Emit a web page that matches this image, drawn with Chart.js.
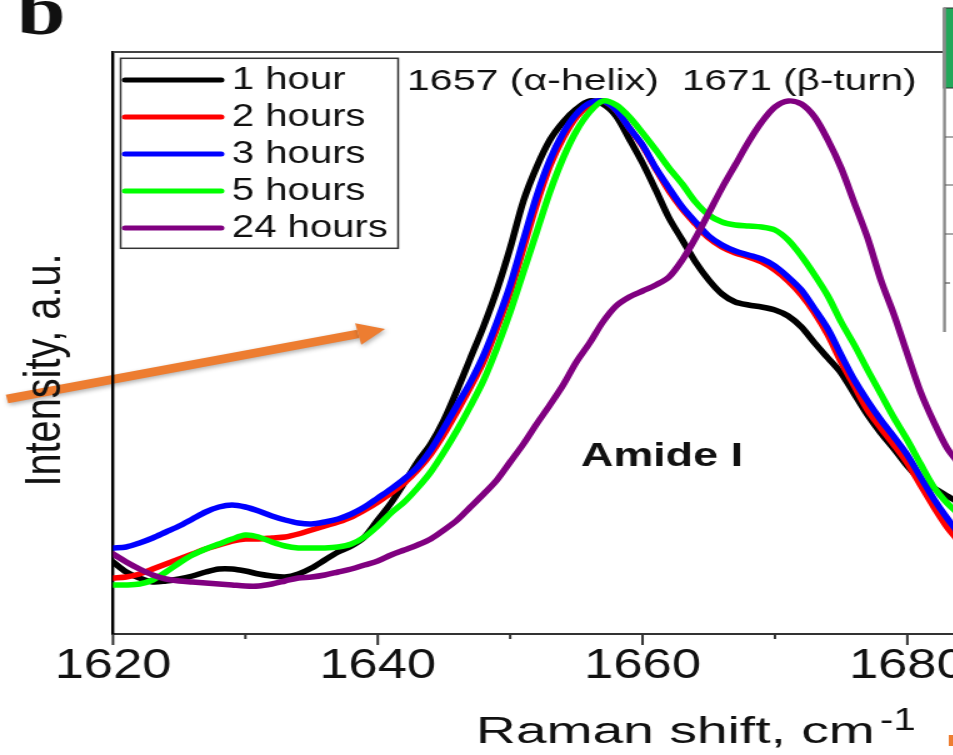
<!DOCTYPE html>
<html>
<head>
<meta charset="utf-8">
<script src="https://cdn.jsdelivr.net/npm/chart.js@4.4.1/dist/chart.umd.min.js"></script>
<style>
  html, body { margin: 0; padding: 0; background: #fff; overflow: hidden; }
  #frame { width: 953px; height: 755px; overflow: hidden; }
  /* the figure is laid out 800 wide and stretched sideways like the published panel */
  #stretch { width: 800px; height: 755px; transform: scaleX(1.25); transform-origin: 0 0; }
</style>
</head>
<body>
<div id="frame"><div id="stretch"><canvas id="amide" width="800" height="755"></canvas></div></div>
<script>
// Raman shift, cm-1
const ramanShift = [
  1620, 1621, 1622, 1623, 1624, 1625, 1626, 1627, 1628, 1629,
  1630, 1631, 1632, 1633, 1634, 1635, 1636, 1637, 1638, 1639,
  1640, 1641, 1642, 1643, 1644, 1645, 1646, 1647, 1648, 1649,
  1650, 1651, 1652, 1653, 1654, 1655, 1656, 1657, 1658, 1659,
  1660, 1661, 1662, 1663, 1664, 1665, 1666, 1667, 1668, 1669,
  1670, 1671, 1672, 1673, 1674, 1675, 1676, 1677, 1678, 1679,
  1680, 1681, 1682, 1683, 1684
]

// intensity, arbitrary units
const oneHour = [
  72, 62, 56, 52, 53, 55, 58, 62, 65, 65,
  63, 60, 58, 57, 60, 66, 74, 82, 88, 97,
  114, 131, 151, 172, 190, 214, 244, 276, 308, 344,
  386, 433, 467, 494, 512, 525, 533, 530, 518, 495,
  471, 444, 416, 394, 372, 354, 340, 332, 329, 327,
  324, 318, 307, 291, 276, 261, 240, 219, 201, 185,
  168, 154, 146, 138, 131
]
const twoHours = [
  56, 57, 60, 65, 70, 75, 80, 85, 89, 93,
  95, 95, 96, 97, 100, 104, 108, 112, 117, 124,
  132, 141, 151, 164, 180, 200, 223, 247, 273, 306,
  342, 386, 430, 468, 496, 517, 529, 533, 524, 506,
  488, 465, 443, 425, 410, 396, 387, 381, 377, 372,
  364, 353, 339, 321, 299, 272, 248, 224, 206, 189,
  171, 149, 127, 107, 91
]
const threeHours = [
  86, 87, 91, 96, 102, 108, 115, 122, 127, 129,
  127, 123, 118, 114, 111, 110, 112, 115, 120, 127,
  136, 145, 155, 167, 184, 206, 229, 252, 279, 312,
  349, 394, 438, 474, 501, 520, 531, 533, 524, 506,
  489, 466, 446, 427, 412, 398, 389, 383, 379, 375,
  368, 357, 344, 325, 305, 279, 254, 233, 214, 197,
  179, 157, 135, 116, 99
]
const fiveHours = [
  49, 49, 50, 54, 62, 71, 79, 85, 90, 95,
  99, 97, 92, 88, 86, 86, 86, 87, 90, 97,
  108, 121, 132, 146, 162, 182, 204, 228, 254, 286,
  322, 362, 402, 442, 476, 503, 522, 533, 529, 517,
  501, 484, 466, 450, 432, 419, 412, 409, 408, 407,
  404, 394, 378, 359, 338, 312, 289, 264, 240, 216,
  194, 170, 147, 131, 119
]
const twentyFourHours = [
  80, 72, 65, 59, 55, 53, 52, 51, 50, 49,
  48, 48, 50, 53, 56, 57, 59, 62, 65, 69,
  73, 79, 84, 89, 95, 104, 114, 127, 140, 154,
  172, 190, 210, 229, 249, 272, 291, 312, 328, 337,
  343, 349, 357, 374, 396, 421, 446, 469, 492, 512,
  527, 533, 530, 517, 494, 466, 431, 396, 354, 319,
  280, 242, 212, 186, 169
]

const seriesLabels = ['1 hour', '2 hours', '3 hours', '5 hours', '24 hours']
const seriesValues = [oneHour, twoHours, threeHours, fiveHours, twentyFourHours]
const seriesColors = ['#000000', '#ff0000', '#0000ff', '#00ff00', '#800080']

const xTickValues = [1620, 1630, 1640, 1650, 1660, 1670, 1680]
const xLabelStep = 20
const peakLabels = ['1657 (\u03b1-helix)', '1671 (\u03b2-turn)']
const bandLabel = 'Amide I'
const xTitle = 'Raman shift, cm'
const xTitleSup = '-1'
const yTitle = 'Intensity, a.u.'
const panelLetter = 'b'

const SANS = '"Liberation Sans", Arial, Helvetica, sans-serif'

// draw text squeezed or widened to a given width
const fitText = (ctx, text, x, y, width, center) => {
  const w = ctx.measureText(text).width
  ctx.save()
  ctx.translate(x, y)
  ctx.scale(width / w, 1)
  ctx.textAlign = 'left'
  ctx.fillText(text, center ? -w / 2 : 0, 0)
  ctx.restore()
}

const drawArrow = (ctx, x0, y0, x1, y1) => {
  const ang = Math.atan2(y1 - y0, x1 - x0)
  const head = 22
  const half = 11
  const bx = x1 - head * Math.cos(ang)
  const by = y1 - head * Math.sin(ang)
  ctx.save()
  ctx.shadowColor = 'rgba(0, 0, 0, 0.3)'
  ctx.shadowBlur = 4
  ctx.shadowOffsetX = 1
  ctx.shadowOffsetY = 2
  ctx.strokeStyle = '#ed7d31'
  ctx.fillStyle = '#ed7d31'
  ctx.lineWidth = 8.5
  ctx.beginPath()
  ctx.moveTo(x0, y0)
  ctx.lineTo(bx, by)
  ctx.stroke()
  ctx.beginPath()
  ctx.moveTo(x1, y1)
  ctx.lineTo(bx + half * Math.sin(ang), by - half * Math.cos(ang))
  ctx.lineTo(bx - half * Math.sin(ang), by + half * Math.cos(ang))
  ctx.closePath()
  ctx.fill()
  ctx.restore()
}

const figureDecor = {
  id: 'figureDecor',
  beforeDraw (chart) {
    const ctx = chart.ctx
    ctx.save()
    ctx.fillStyle = '#ffffff'
    ctx.fillRect(0, 0, chart.width, chart.height)
    ctx.restore()
    // trend arrow sits under the axis line and the axis title
    drawArrow(ctx, 5.6, 399, 308, 329)
  },
  afterDraw (chart) {
    const { ctx, chartArea } = chart
    const xs = chart.scales.x
    ctx.save()

    // top frame of the plot
    ctx.strokeStyle = '#444'
    ctx.lineWidth = 2
    ctx.beginPath()
    ctx.moveTo(chartArea.left, chartArea.top)
    ctx.lineTo(754.4, chartArea.top)
    ctx.stroke()

    // x ticks, long ones carry a label
    ctx.strokeStyle = '#333'
    ctx.lineWidth = 2
    xTickValues.forEach(v => {
      const px = xs.getPixelForValue(v)
      const len = v % xLabelStep === 0 ? 11 : 5
      ctx.beginPath()
      ctx.moveTo(px, chartArea.bottom)
      ctx.lineTo(px, chartArea.bottom + len)
      ctx.stroke()
    })

    // legend box
    ctx.fillStyle = '#ffffff'
    ctx.fillRect(96.5, 58.3, 222, 190)
    ctx.strokeStyle = '#333'
    ctx.lineWidth = 1.5
    ctx.strokeRect(96.5, 58.3, 222, 190)
    ctx.lineCap = 'round'
    ctx.lineWidth = 5
    ctx.font = '32px ' + SANS
    ctx.textAlign = 'left'
    ctx.textBaseline = 'alphabetic'
    seriesLabels.forEach((label, i) => {
      const rowY = 80 + i * 37
      ctx.strokeStyle = seriesColors[i]
      ctx.beginPath()
      ctx.moveTo(100, rowY)
      ctx.lineTo(177, rowY)
      ctx.stroke()
      ctx.fillStyle = '#111'
      ctx.fillText(label, 185.6, rowY + 9.3)
    })

    // band assignments
    ctx.fillStyle = '#111'
    ctx.font = '30px ' + SANS
    fitText(ctx, peakLabels[0], 325.6, 90, 201.6)
    fitText(ctx, peakLabels[1], 545.6, 90, 187.7)
    ctx.font = 'bold 34px ' + SANS
    fitText(ctx, bandLabel, 464.8, 466, 129.6)

    // axis titles
    ctx.font = '36px ' + SANS
    fitText(ctx, xTitle, 380.8, 742.7, 319)
    ctx.font = '32px ' + SANS
    ctx.fillText(xTitleSup, 704, 730)
    ctx.save()
    ctx.translate(48, 370)
    ctx.rotate(-Math.PI / 2)
    ctx.font = '41px ' + SANS
    fitText(ctx, yTitle, 0, 0, 233, true)
    ctx.restore()

    // panel letter, top cut by the crop
    ctx.font = 'bold 70px "Liberation Serif", "Times New Roman", serif'
    ctx.fillText(panelLetter, 13.6, 34)

    // edge of the neighbouring panel
    ctx.fillStyle = '#ffffff'
    ctx.fillRect(754.4, 0, 50, 334)
    ctx.fillStyle = '#22a85a'
    ctx.fillRect(755, 8, 50, 80)
    ctx.strokeStyle = '#2b2b2b'
    ctx.lineWidth = 1
    ctx.strokeRect(755, 8, 50, 80)
    ctx.strokeStyle = '#8c8c8c'
    ctx.lineWidth = 2.4
    ctx.lineCap = 'butt'
    ctx.beginPath()
    ctx.moveTo(755.6, 8)
    ctx.lineTo(755.6, 332)
    ctx.stroke()
    ctx.strokeStyle = '#555'
    ctx.lineWidth = 1.2
    ;[137, 185, 234].forEach(ty => {
      ctx.beginPath()
      ctx.moveTo(756, ty)
      ctx.lineTo(800, ty)
      ctx.stroke()
    })
    ctx.beginPath()
    ctx.moveTo(756, 283)
    ctx.lineTo(760, 283)
    ctx.stroke()
    ctx.fillStyle = '#ed7d31'
    ctx.fillRect(759, 735, 41, 11)

    ctx.restore()
  }
}

const ctx = document.getElementById('amide')
const amideChart = new Chart(ctx, {
  type: 'line',
  data: {
    datasets: seriesLabels.map((label, i) => ({
      label,
      data: ramanShift.map((x, j) => ({ x, y: seriesValues[i][j] })),
      borderColor: seriesColors[i],
      borderWidth: 5.5,
      pointRadius: 0,
      tension: 0.3,
      fill: false,
      borderCapStyle: 'round',
      borderJoinStyle: 'round',
      // later series are drawn on top
      order: seriesLabels.length - 1 - i
    }))
  },
  options: {
    responsive: false,
    devicePixelRatio: 1,
    animation: false,
    events: [],
    layout: { padding: { top: 52, left: 0, right: 0, bottom: 0 } },
    plugins: {
      legend: { display: false },
      tooltip: { enabled: false }
    },
    scales: {
      x: {
        type: 'linear',
        min: 1620,
        max: 1687,
        afterBuildTicks: scale => { scale.ticks = xTickValues.map(v => ({ value: v })) },
        afterFit: scale => { scale.height = 121 },
        grid: { display: false, drawTicks: false },
        border: { display: true, color: '#333', width: 2 },
        ticks: {
          autoSkip: false,
          maxRotation: 0,
          padding: 7,
          color: '#111',
          font: { family: SANS, size: 42, lineHeight: 1.2 },
          callback: v => (v % xLabelStep === 0 ? String(v) : '')
        }
      },
      y: {
        min: 0,
        max: 582,
        afterFit: scale => { scale.width = 90.4 },
        grid: { display: false, drawTicks: false },
        border: { display: true, color: '#000', width: 2.4 },
        ticks: { display: false }
      }
    }
  },
  plugins: [figureDecor]
})
</script>
</body>
</html>
